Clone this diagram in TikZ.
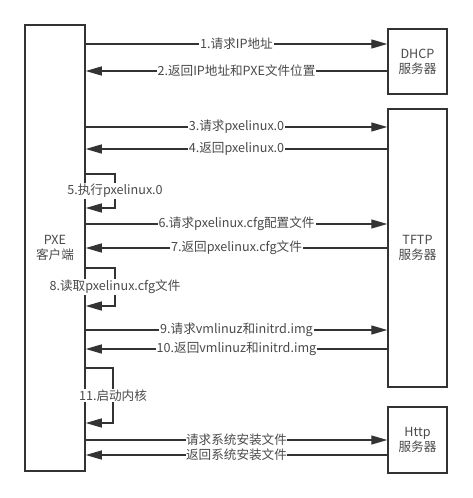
\documentclass[tikz,border=0pt]{standalone}
\usepackage{fontspec}
\setmainfont{Noto Sans CJK SC}
\usepackage{xcolor}
\usetikzlibrary{arrows.meta,positioning,calc}
\definecolor{lineGray}{HTML}{333333}
\definecolor{textGray}{HTML}{4A4A4A}

\begin{document}
\begin{tikzpicture}[
  x=1pt, y=-1pt,
  every node/.style={font=\fontsize{12.6}{15}\selectfont, text=textGray},
  box/.style={draw=lineGray, line width=1.5pt, align=center, inner sep=0pt},
  arr/.style={draw=lineGray, line width=1.3pt, -{Triangle[length=16pt,width=9pt]}},
  lbl/.style={fill=white, inner sep=1pt},
]
  \useasboundingbox (0,0) rectangle (473,498);

  \node[box, minimum width=60pt, minimum height=446pt] (pxe)  at (55,248)    {PXE\\客户端};
  \node[box, minimum width=59pt, minimum height=65pt]  (dhcp) at (417.5,61.5) {DHCP\\服务器};
  \node[box, minimum width=59pt, minimum height=278pt] (tftp) at (417.5,248) {TFTP\\服务器};
  \node[box, minimum width=59pt, minimum height=66pt]  (http) at (417.5,440) {Http\\服务器};

  % DHCP
  \draw[arr] (pxe.east |- 0,44)  -- node[lbl] {1.请求IP地址} (dhcp.west |- 0,44);
  \draw[arr] (dhcp.west |- 0,71) -- node[lbl] {2.返回IP地址和PXE文件位置} (pxe.east |- 0,71);

  % TFTP
  \draw[arr] (pxe.east |- 0,127)  -- node[lbl] {3.请求pxelinux.0} (tftp.west |- 0,127);
  \draw[arr] (tftp.west |- 0,149) -- node[lbl] {4.返回pxelinux.0} (pxe.east |- 0,149);
  \draw[arr] (pxe.east |- 0,174) -- (115,174) -- node[lbl] {5.执行pxelinux.0} (115,208) -- (pxe.east |- 0,208);
  \draw[arr] (pxe.east |- 0,224)  -- node[lbl] {6.请求pxelinux.cfg配置文件} (tftp.west |- 0,224);
  \draw[arr] (tftp.west |- 0,248) -- node[lbl] {7.返回pxelinux.cfg文件} (pxe.east |- 0,248);
  \draw[arr] (pxe.east |- 0,268) -- (115,268) -- node[lbl] {8.读取pxelinux.cfg文件} (115,306) -- (pxe.east |- 0,306);
  \draw[arr] (pxe.east |- 0,330)  -- node[lbl] {9.请求vmlinuz和initrd.img} (tftp.west |- 0,330);
  \draw[arr] (tftp.west |- 0,349) -- node[lbl] {10.返回vmlinuz和initrd.img} (pxe.east |- 0,349);
  \draw[arr] (pxe.east |- 0,368) -- (113,368) -- node[lbl] {11.启动内核} (113,423) -- (pxe.east |- 0,423);

  % Http
  \draw[arr] (pxe.east |- 0,440)  -- node[lbl, inner sep=0pt] {请求系统安装文件} (http.west |- 0,440);
  \draw[arr] (http.west |- 0,455) -- node[lbl, inner sep=0pt] {返回系统安装文件} (pxe.east |- 0,455);
\end{tikzpicture}
\end{document}
